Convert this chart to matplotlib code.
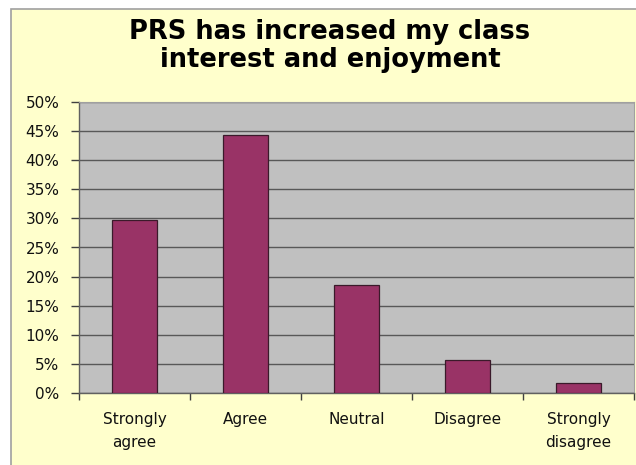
import matplotlib
matplotlib.use("Agg")
import matplotlib.pyplot as plt
from matplotlib.patches import Rectangle
from matplotlib.ticker import FixedLocator, FuncFormatter

plt.rcParams['font.family'] = ['DejaVu Sans']

categories = ["Strongly\nagree", "Agree", "Neutral", "Disagree", "Strongly\ndisagree"]
values = [0.298, 0.444, 0.186, 0.056, 0.018]
title = "PRS has increased my class\ninterest and enjoyment"
yticks = [0.0, 0.05, 0.10, 0.15, 0.20, 0.25, 0.30, 0.35, 0.40, 0.45, 0.50]

W, H = 636, 465
fig = plt.figure(figsize=(W / 100, H / 100), dpi=100, facecolor="white")

# chart area background
bg = Rectangle((11 / W, -0.05), 1, 1.05 - 9 / H, transform=fig.transFigure,
               facecolor="#FFFFCC", edgecolor="#A0A0A0", linewidth=1.2, zorder=-10)
fig.patches.append(bg)

left, right, top, bottom = 79, 634, 102, 393
ax = fig.add_axes([left / W, (H - bottom) / H, (right - left) / W, (bottom - top) / H])
ax.set_facecolor("#C0C0C0")

x = list(range(len(categories)))
ax.bar(x, values, width=0.41, color="#993366", edgecolor="#3a1a2a", linewidth=0.9, zorder=3)

ax.set_xlim(-0.5, len(categories) - 0.5)
ax.set_ylim(0, 0.5)
ax.set_yticks(yticks)
ax.yaxis.set_major_formatter(FuncFormatter(lambda v, p: f"{v * 100:.0f}%"))
ax.grid(axis="y", color="#585858", linewidth=1.0, zorder=1)
ax.set_axisbelow(True)

ax.set_xticks(x)
ax.set_xticklabels(categories, linespacing=1.6)
ax.xaxis.set_minor_locator(FixedLocator([i - 0.5 for i in range(len(categories) + 1)]))
ax.tick_params(axis="x", which="major", length=0, pad=14, labelsize=11, labelcolor="#111111")
ax.tick_params(axis="x", which="minor", length=5, direction="out", color="#404040", width=1)
ax.tick_params(axis="y", length=6, direction="out", color="#404040", width=1,
               pad=8, labelsize=11, labelcolor="#111111")

for s in ["top", "right"]:
    ax.spines[s].set_color("#A0A0A0")
    ax.spines[s].set_linewidth(0.8)
for s in ["left", "bottom"]:
    ax.spines[s].set_color("#606060")
    ax.spines[s].set_linewidth(1.0)

fig.text(330 / W, 1 - 46 / H, title, ha="center", va="center",
         fontsize=18.5, fontweight="bold", linespacing=1.1, color="#000000")

fig.savefig("out.png", dpi=100, facecolor="white")
